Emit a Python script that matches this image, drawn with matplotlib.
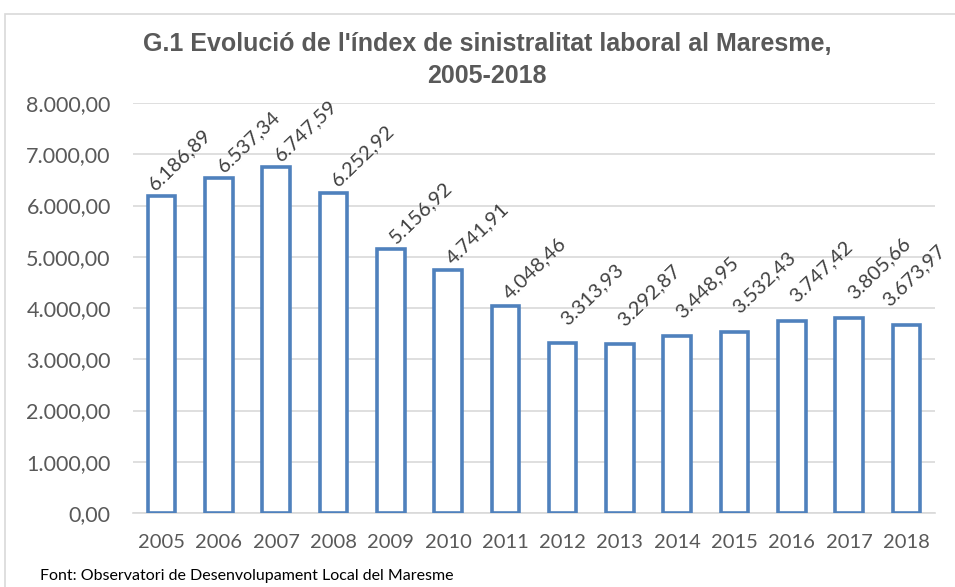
import matplotlib.pyplot as plt
from matplotlib.patches import Rectangle

years = ['2005', '2006', '2007', '2008', '2009', '2010', '2011',
         '2012', '2013', '2014', '2015', '2016', '2017', '2018']
index_values = [6186.89, 6537.34, 6747.59, 6252.92, 5156.92, 4741.91, 4048.46,
                3313.93, 3292.87, 3448.95, 3532.43, 3747.42, 3805.66, 3673.97]
y_ticks = [0, 1000, 2000, 3000, 4000, 5000, 6000, 7000, 8000]

title = "G.1 Evolució de l'índex de sinistralitat laboral al Maresme,\n2005-2018"
source = 'Font: Observatori de Desenvolupament Local del Maresme'


def fmt(v):
    # catalan number format: 6.186,89
    s = f'{v:,.2f}'
    return s.replace(',', 'X').replace('.', ',').replace('X', '.')


W, H = 955, 587
dpi = 100
fig = plt.figure(figsize=(W / dpi, H / dpi), dpi=dpi)

# chart frame
fig.patches.append(Rectangle((5 / W, -0.1), 2.0, 1 - 14 / H + 0.1,
                             transform=fig.transFigure, fill=False,
                             edgecolor='#d9d9d9', linewidth=1.2))

ax = fig.add_axes([133 / W, (H - 513) / H, (935 - 133) / W, (513 - 103) / H])

x = list(range(len(years)))
ax.bar(x, index_values, width=0.48, facecolor='white', edgecolor='#4f81bd',
       linewidth=2.6, zorder=3)

# label nudges (points); excel lifts the lower labels a bit more
for i, v in zip(x, index_values):
    dx = 5
    if i == 0:
        dx = -3
    elif i == len(x) - 1:
        dx = -11
    dy = 2 if i < 7 else 11
    ax.annotate(fmt(v), (i, v), xytext=(dx, dy), textcoords='offset points',
                rotation=44, rotation_mode='anchor', ha='left', va='bottom',
                fontsize=14.5, color='#404040', family='Lato', zorder=4)

ax.set_xlim(-0.5, len(years) - 0.5)
ax.set_ylim(0, 8000)
ax.set_yticks(y_ticks)
ax.set_yticklabels([fmt(t) for t in y_ticks])
ax.set_xticks(x)
ax.set_xticklabels(years)
ax.tick_params(axis='y', length=0, pad=16, labelsize=15.5, labelcolor='#595959')
ax.tick_params(axis='x', length=0, pad=15, labelsize=14.5, labelcolor='#595959')
for lab in ax.get_xticklabels() + ax.get_yticklabels():
    lab.set_family('Lato')

ax.grid(axis='y', color='#d9d9d9', linewidth=1.2, zorder=0)
ax.set_axisbelow(True)
for sp in ['top', 'right', 'left']:
    ax.spines[sp].set_visible(False)
ax.spines['bottom'].set_color('#d9d9d9')
ax.spines['bottom'].set_linewidth(1.2)

fig.text(487 / W, 1 - 60 / H, title, ha='center', va='center', fontsize=18,
         fontweight='bold', color='#595959', family='Liberation Sans',
         linespacing=1.4)
fig.text(40 / W, 1 - 576 / H, source, ha='left', va='center', fontsize=11.5,
         color='black', family='Lato')

fig.savefig('out.png', dpi=dpi)
plt.close(fig)
